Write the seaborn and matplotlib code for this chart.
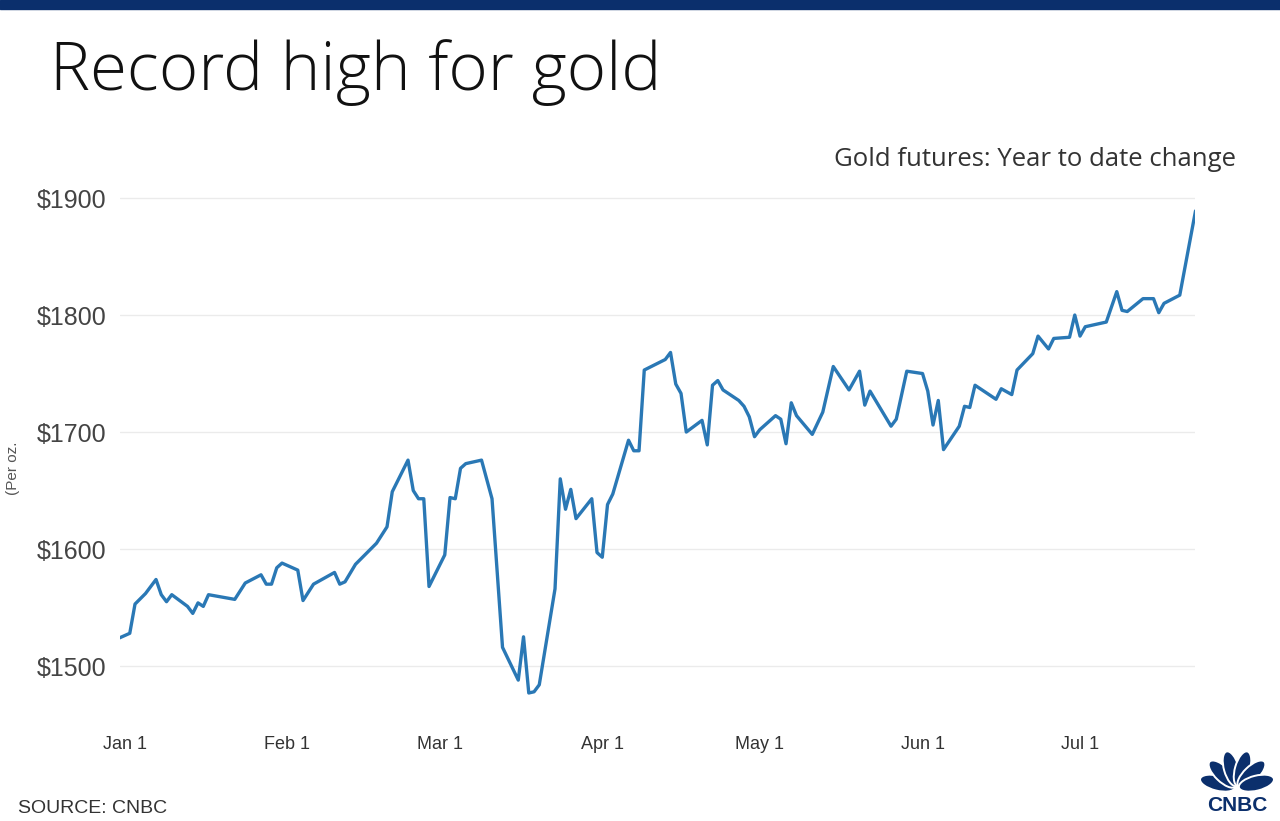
import pandas as pd
import numpy as np
import seaborn as sns
import matplotlib.pyplot as plt
from matplotlib.patches import Ellipse, Rectangle

# gold futures
dates = [
    "2019-12-31", "2020-01-02", "2020-01-03", "2020-01-05", "2020-01-07", "2020-01-08",
    "2020-01-09", "2020-01-10", "2020-01-13", "2020-01-14", "2020-01-15", "2020-01-16",
    "2020-01-17", "2020-01-22", "2020-01-24", "2020-01-27", "2020-01-28", "2020-01-29",
    "2020-01-30", "2020-01-31", "2020-02-03", "2020-02-04", "2020-02-06", "2020-02-10",
    "2020-02-11", "2020-02-12", "2020-02-14", "2020-02-18", "2020-02-20", "2020-02-21",
    "2020-02-24", "2020-02-25", "2020-02-26", "2020-02-27", "2020-02-28", "2020-03-02",
    "2020-03-03", "2020-03-04", "2020-03-05", "2020-03-06", "2020-03-09", "2020-03-11",
    "2020-03-13", "2020-03-16", "2020-03-17", "2020-03-18", "2020-03-19", "2020-03-20",
    "2020-03-23", "2020-03-24", "2020-03-25", "2020-03-26", "2020-03-27", "2020-03-30",
    "2020-03-31", "2020-04-01", "2020-04-02", "2020-04-03", "2020-04-06", "2020-04-07",
    "2020-04-08", "2020-04-09", "2020-04-13", "2020-04-14", "2020-04-15", "2020-04-16",
    "2020-04-17", "2020-04-20", "2020-04-21", "2020-04-22", "2020-04-23", "2020-04-24",
    "2020-04-27", "2020-04-28", "2020-04-29", "2020-04-30", "2020-05-01", "2020-05-04",
    "2020-05-05", "2020-05-06", "2020-05-07", "2020-05-08", "2020-05-11", "2020-05-13",
    "2020-05-15", "2020-05-18", "2020-05-20", "2020-05-21", "2020-05-22", "2020-05-26",
    "2020-05-27", "2020-05-29", "2020-06-01", "2020-06-02", "2020-06-03", "2020-06-04",
    "2020-06-05", "2020-06-08", "2020-06-09", "2020-06-10", "2020-06-11", "2020-06-15",
    "2020-06-16", "2020-06-18", "2020-06-19", "2020-06-22", "2020-06-23", "2020-06-25",
    "2020-06-26", "2020-06-29", "2020-06-30", "2020-07-01", "2020-07-02", "2020-07-06",
    "2020-07-08", "2020-07-09", "2020-07-10", "2020-07-13", "2020-07-15", "2020-07-16",
    "2020-07-17", "2020-07-20", "2020-07-23",
]
prices = [
    1524, 1528, 1553, 1562, 1574, 1561,
    1555, 1561, 1551, 1545, 1554, 1551,
    1561, 1557, 1571, 1578, 1570, 1570,
    1584, 1588, 1582, 1556, 1570, 1580,
    1570, 1572, 1587, 1605, 1619, 1649,
    1676, 1650, 1643, 1643, 1568, 1595,
    1644, 1643, 1669, 1673, 1676, 1643,
    1516, 1488, 1525, 1477, 1478, 1484,
    1566, 1660, 1634, 1651, 1626, 1643,
    1597, 1593, 1638, 1647, 1693, 1684,
    1684, 1753, 1762, 1768, 1741, 1733,
    1700, 1710, 1689, 1740, 1744, 1736,
    1727, 1722, 1713, 1696, 1702, 1714,
    1711, 1690, 1725, 1714, 1698, 1717,
    1756, 1736, 1752, 1723, 1735, 1705,
    1711, 1752, 1750, 1735, 1706, 1727,
    1685, 1705, 1722, 1721, 1740, 1728,
    1737, 1732, 1753, 1767, 1782, 1771,
    1780, 1781, 1800, 1782, 1790, 1794,
    1820, 1804, 1803, 1814, 1814, 1802,
    1810, 1817, 1889,
]

month_ticks = ["2020-01-01", "2020-02-01", "2020-03-01", "2020-04-01",
               "2020-05-01", "2020-06-01", "2020-07-01"]
month_labels = ["Jan 1", "Feb 1", "Mar 1", "Apr 1", "May 1", "Jun 1", "Jul 1"]
price_ticks = [1500, 1600, 1700, 1800, 1900]

df = pd.DataFrame({"date": pd.to_datetime(dates), "price": prices})

sns.set_theme(style="white")
plt.rcParams["font.family"] = ["Liberation Sans", "DejaVu Sans"]

fig = plt.figure(figsize=(12.8, 8.21), dpi=100)
ax = fig.add_axes([120 / 1280, 1 - 700 / 821, 1075 / 1280, 509 / 821])

sns.lineplot(data=df, x="date", y="price", ax=ax, color="#2a78b5", linewidth=2.4)

start = pd.Timestamp("2020-01-01")
ax.set_xlim(start - pd.Timedelta(days=0.86), start + pd.Timedelta(days=203.9))
ax.set_ylim(1471, 1906)

ax.set_yticks(price_ticks)
ax.set_yticklabels([f"${v}" for v in price_ticks], fontsize=18, color="#444444")
ax.set_xticks(pd.to_datetime(month_ticks))
ax.set_xticklabels(month_labels, fontsize=13, color="#333333")
ax.tick_params(axis="x", length=0, pad=26)
ax.tick_params(axis="y", length=0, pad=10)
ax.grid(axis="y", color="#ebebeb", linewidth=1)
ax.set_xlabel("")
ax.set_ylabel("")
for s in ax.spines.values():
    s.set_visible(False)

# header bar and texts
fig.add_artist(Rectangle((0, 1 - 9 / 821), 1, 9 / 821, transform=fig.transFigure,
                         color="#0b2f6c", zorder=5))
fig.text(50 / 1280, 1 - 90 / 821, "Record high for gold", fontsize=48.5,
         family=["Open Sans", "DejaVu Sans"], fontweight="light", color="#111111",
         va="baseline")
fig.text(1236 / 1280, 1 - 159 / 821, "Gold futures: Year to date change", fontsize=18.5,
         family=["Open Sans", "DejaVu Sans"], color="#333333", ha="right", va="center")
fig.text(13 / 1280, 1 - 468 / 821, "(Per oz.", fontsize=11, rotation=90,
         color="#555555", ha="center", va="center")
fig.text(18 / 1280, 1 - 808 / 821, "SOURCE: CNBC", fontsize=14, color="#333333",
         va="center")

# rough CNBC peacock logo
logo = fig.add_axes([1196 / 1280, 1 - 812 / 821, 82 / 1280, 64 / 821])
logo.set_xlim(0, 82)
logo.set_ylim(0, 64)
logo.axis("off")
navy = "#0b2f6c"
for ang in [166, 136, 106, 74, 44, 14]:
    r = np.deg2rad(ang)
    cx, cy = 41 + 20 * np.cos(r), 24 + 20 * np.sin(r)
    logo.add_patch(Ellipse((cx, cy), 36, 15, angle=ang, facecolor=navy,
                           edgecolor="white", linewidth=1.4))
logo.text(41, 7, "CNBC", ha="center", va="center", fontsize=15, fontweight="bold",
          color=navy)

fig.savefig("out.png", dpi=100)
